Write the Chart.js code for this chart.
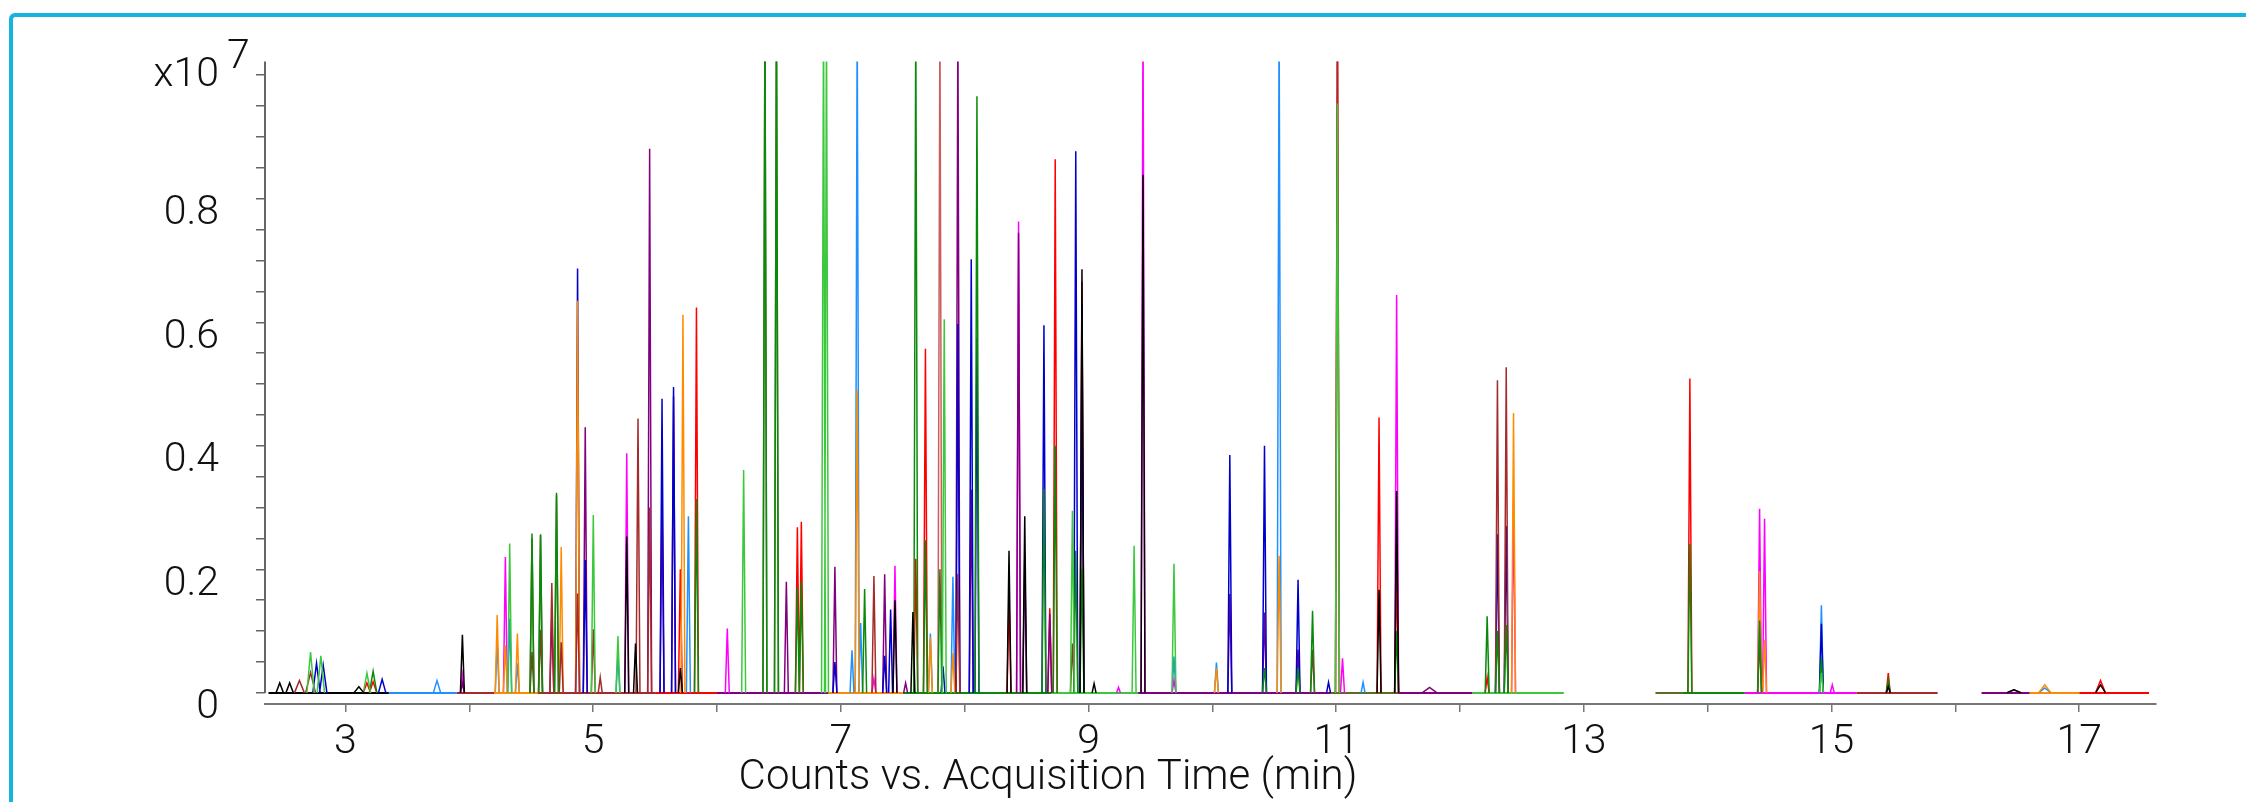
<!DOCTYPE html>
<html>
<head>
<meta charset="utf-8">
<title>Counts vs. Acquisition Time</title>
<script src="https://cdn.jsdelivr.net/npm/chart.js@4.4.1/dist/chart.umd.min.js"></script>
<style>
  html, body { margin: 0; padding: 0; background: #fff; }
  #wrap { position: relative; width: 2246px; height: 802px; overflow: hidden; }
  #frame { position: absolute; left: 9px; top: 13px; width: 2400px; height: 900px;
           border-top: 4px solid #14b3e0; border-left: 4px solid #14b3e0; border-top-left-radius: 6px; }
  #chart-box { position: absolute; left: 0; top: 0; width: 2246px; height: 802px; }
</style>
</head>
<body>
<div id="wrap">
  <div id="frame"></div>
  <div id="chart-box"><canvas id="tic"></canvas></div>
</div>
<script>
// Overlaid MRM chromatograms, counts in units of 1e7, time in minutes.
// Each trace is a list of [retention time, height(, half width)].

const axisTitle = 'Counts vs. Acquisition Time (min)';
const xTicks = [3, 4, 5, 6, 7, 8, 9, 10, 11, 12, 13, 14, 15, 16, 17];
const yTicks = [0, 0.05, 0.1, 0.15, 0.2, 0.25, 0.3, 0.35, 0.4, 0.45, 0.5,
                0.55, 0.6, 0.65, 0.7, 0.75, 0.8, 0.85, 0.9, 0.95, 1.0];
const yLabelled = [0, 0.2, 0.4, 0.6, 0.8];

const palette = {
  black: '#000000', red: '#ff0000', blue: '#0000cd', lime: '#3cc83c', green: '#0a8a0a',
  magenta: '#ff00ff', orange: '#ff8c00', sky: '#1e90ff', purple: '#800080', brown: '#a52a2a',
  olive: '#5b6b1f', rosered: '#cd5c5c',
};

// baseline stretches [from, to, colour] – the three acquisition windows, coloured by the trace on top
const baselinePieces = [
  [2.378, 3.35, 'black'], [3.35, 3.9, 'sky'], [3.9, 4.2, 'brown'], [4.2, 4.55, 'orange'],
  [4.55, 5.5, 'brown'], [5.5, 6.0, 'red'], [6.0, 6.9, 'purple'], [6.9, 7.5, 'orange'],
  [7.5, 8.7, 'green'], [8.7, 9.4, 'lime'], [9.4, 10.95, 'purple'], [10.95, 11.5, 'olive'],
  [11.5, 12.1, 'purple'], [12.1, 12.838, 'lime'],
  [13.578, 13.8, 'olive'], [13.8, 14.3, 'green'], [14.3, 15.2, 'magenta'], [15.2, 15.857, 'brown'],
  [16.211, 16.6, 'purple'], [16.6, 17.0, 'orange'], [17.0, 17.564, 'red'],
];

// 1.1 = peak runs off the top of the plot
const blackPeaks = [[2.469, 0.016, 0.03], [2.549, 0.016, 0.03], [3.108, 0.01, 0.04], [3.944, 0.094],
  [5.271, 0.253], [5.342, 0.08], [5.704, 0.04], [7.437, 0.15], [7.582, 0.131], [8.358, 0.23],
  [8.485, 0.286], [8.947, 0.686], [9.045, 0.015], [9.44, 0.839], [11.346, 0.167], [11.488, 0.327],
  [15.458, 0.01], [16.473, 0.005, 0.06], [17.172, 0.013, 0.04]];
const redPeaks = [[3.173, 0.016, 0.03], [3.223, 0.018, 0.03], [5.704, 0.2], [5.834, 0.624],
  [6.649, 0.268], [6.681, 0.277], [7.605, 0.217], [7.683, 0.557], [8.358, 0.157], [8.687, 0.137],
  [8.731, 0.864], [8.947, 0.666], [11.01, 1.1], [11.346, 0.446], [11.488, 0.2], [12.219, 0.025],
  [13.856, 0.509], [15.458, 0.032], [17.172, 0.02, 0.04]];
const bluePeaks = [[2.766, 0.048, 0.03], [2.82, 0.045, 0.03], [3.296, 0.022, 0.03], [4.874, 0.687],
  [4.936, 0.215], [5.556, 0.476], [5.649, 0.495], [6.952, 0.05], [7.354, 0.06], [7.402, 0.135],
  [7.825, 0.043], [7.945, 0.597], [8.053, 0.702], [8.099, 0.575], [8.64, 0.595], [8.897, 0.877],
  [8.947, 0.63], [10.141, 0.385], [10.421, 0.40], [10.692, 0.183], [10.938, 0.017], [12.302, 0.257],
  [12.373, 0.27], [14.918, 0.112]];
const limePeaks = [[2.718, 0.066, 0.03], [2.801, 0.06, 0.03], [3.173, 0.032, 0.03], [4.326, 0.242],
  [5.001, 0.288], [5.2, 0.092], [6.215, 0.361], [6.86, 1.1], [6.884, 1.1], [7.835, 0.605],
  [8.87, 0.295], [9.368, 0.238], [9.69, 0.209], [11.01, 0.954], [14.918, 0.032]];
const greenPeaks = [[3.223, 0.035, 0.03], [4.506, 0.258], [4.575, 0.257], [4.704, 0.324], [5.834, 0.314],
  [6.387, 1.1], [6.48, 1.1], [6.649, 0.17], [6.681, 0.18], [7.192, 0.168], [7.605, 1.1], [7.683, 0.247],
  [7.8, 0.2], [8.099, 0.966], [8.64, 0.33], [8.731, 0.4], [8.897, 0.23], [8.947, 0.2], [10.421, 0.04],
  [10.692, 0.04], [10.809, 0.133], [11.488, 0.1], [12.219, 0.124], [12.302, 0.1], [12.373, 0.11],
  [13.856, 0.241], [14.419, 0.117], [14.918, 0.056], [15.458, 0.021]];
const magentaPeaks = [[3.944, 0.029], [4.291, 0.22], [5.271, 0.388], [6.083, 0.104], [7.267, 0.023],
  [7.437, 0.206], [8.435, 0.763], [9.242, 0.009], [9.44, 1.1], [9.69, 0.02], [11.051, 0.056],
  [11.488, 0.644], [12.432, 0.31], [14.419, 0.298], [14.459, 0.282], [15.006, 0.013], [15.458, 0.015]];
const orangePeaks = [[4.225, 0.126], [4.291, 0.077], [4.388, 0.096], [4.742, 0.236], [4.874, 0.635],
  [5.725, 0.612], [7.132, 0.49], [7.723, 0.09], [7.905, 0.064], [10.033, 0.04], [10.539, 0.222],
  [12.432, 0.453], [14.419, 0.197], [14.459, 0.086], [16.722, 0.013, 0.05]];
const skyPeaks = [[3.739, 0.02, 0.03], [4.225, 0.083], [4.326, 0.12], [4.388, 0.048], [5.2, 0.059],
  [5.769, 0.286], [7.09, 0.069], [7.132, 1.1], [7.16, 0.113], [7.723, 0.096], [7.905, 0.188],
  [9.69, 0.059], [10.033, 0.049], [10.539, 1.1], [11.217, 0.017], [14.918, 0.142], [16.722, 0.008, 0.05]];
const purplePeaks = [[3.944, 0.015], [4.666, 0.126], [4.936, 0.43], [5.456, 0.881], [5.556, 0.31],
  [5.649, 0.48], [6.56, 0.18], [6.952, 0.204], [7.354, 0.192], [7.523, 0.016], [7.945, 1.1],
  [8.053, 0.329], [8.435, 0.745], [8.485, 0.22], [8.687, 0.128], [10.141, 0.16], [10.421, 0.13],
  [10.692, 0.07], [11.754, 0.009, 0.06], [16.473, 0.005, 0.06]];
const brownPeaks = [[2.628, 0.02, 0.04], [2.718, 0.033, 0.04], [4.506, 0.066], [4.575, 0.102],
  [4.666, 0.178], [4.742, 0.082], [4.874, 0.161], [5.001, 0.103], [5.057, 0.025], [5.362, 0.444],
  [5.456, 0.30], [7.267, 0.189], [7.945, 0.193], [8.87, 0.08], [10.809, 0.07], [11.01, 1.1],
  [12.302, 0.506], [12.373, 0.527], [14.419, 0.085]];
const olivePeaks = [[4.506, 0.25], [4.575, 0.255], [4.704, 0.32], [6.387, 1.1], [6.48, 1.1]];
const roseRedPeaks = [[7.8, 1.1]];

// first entry is drawn on top
const traces = [
  { name: 'black', peaks: blackPeaks },
  { name: 'lime', peaks: limePeaks },
  { name: 'green', peaks: greenPeaks },
  { name: 'brown', peaks: brownPeaks },
  { name: 'orange', peaks: orangePeaks },
  { name: 'blue', peaks: bluePeaks },
  { name: 'purple', peaks: purplePeaks },
  { name: 'red', peaks: redPeaks },
  { name: 'rosered', peaks: roseRedPeaks },
  { name: 'magenta', peaks: magentaPeaks },
  { name: 'sky', peaks: skyPeaks },
  { name: 'olive', peaks: olivePeaks },
];

const HALF_WIDTH = 0.016;

// one spike per peak, broken between peaks so the baseline colour comes from baselinePieces
function peakData(peaks) {
  const pts = [];
  peaks.slice().sort((a, b) => a[0] - b[0]).forEach(([rt, h, hw = HALF_WIDTH]) => {
    pts.push({ x: rt - hw, y: 0 }, { x: rt, y: h }, { x: rt + hw, y: 0 }, { x: rt + hw, y: null });
  });
  return pts;
}

const axisExtras = {
  id: 'axisExtras',
  afterDraw(chart) {
    const { ctx, chartArea, scales: { y } } = chart;
    ctx.save();
    // y axis line only runs down to the zero line, the x axis sits a bit lower
    ctx.strokeStyle = '#666';
    ctx.lineWidth = 2;
    ctx.beginPath();
    ctx.moveTo(chartArea.left, y.getPixelForValue(0));
    ctx.lineTo(chartArea.left, chartArea.top);
    ctx.stroke();

    ctx.fillStyle = '#111';
    ctx.font = '300 41px Roboto';
    ctx.textBaseline = 'alphabetic';
    ctx.textAlign = 'right';
    ctx.fillText('x10', chartArea.left - 46, 86);
    ctx.textAlign = 'left';
    ctx.fillText('7', chartArea.left - 38, 68);

    ctx.font = '300 42px Roboto';
    ctx.textAlign = 'center';
    ctx.fillText(axisTitle, 1048, 789);
    ctx.restore();
  }
};

Chart.defaults.font.family = 'Roboto';
Chart.defaults.font.weight = 300;

const baselineSets = baselinePieces.map(([a, b, c]) => ({
  label: 'baseline',
  data: [{ x: a, y: 0 }, { x: b, y: 0 }],
  borderColor: palette[c],
  borderWidth: 2,
  pointRadius: 0,
  order: 1,
}));
const peakSets = traces.map(t => ({
  label: t.name,
  data: peakData(t.peaks),
  borderColor: palette[t.name],
  borderWidth: 1.5,
  pointRadius: 0,
  tension: 0,
  spanGaps: false,
  order: 0,
}));

new Chart(document.getElementById('tic'), {
  type: 'line',
  data: { datasets: peakSets.concat(baselineSets) },
  options: {
    responsive: true,
    maintainAspectRatio: false,
    animation: false,
    events: [],
    layout: { padding: { left: 0, top: 59, right: 90, bottom: 0 } },
    plugins: { legend: { display: false }, tooltip: { enabled: false } },
    scales: {
      x: {
        type: 'linear', min: 2.35, max: 17.62,
        afterBuildTicks: s => { s.ticks = xTicks.map(v => ({ value: v })); },
        afterFit: s => { s.height = 98; },
        grid: { drawOnChartArea: false, tickLength: 8, color: '#777', lineWidth: 1.5 },
        border: { display: true, color: '#777', width: 2 },
        ticks: {
          autoSkip: false, maxRotation: 0, padding: 6, color: '#111',
          font: { size: 41 },
          callback: v => (v % 2 ? String(v) : ''),
        },
      },
      y: {
        min: -0.018, max: 1.022,
        afterBuildTicks: s => { s.ticks = yTicks.map(v => ({ value: v })); },
        afterFit: s => { s.width = 265; },
        grid: { drawOnChartArea: false, tickLength: 9, color: '#666', lineWidth: 1.5 },
        border: { display: false },
        ticks: {
          autoSkip: false, padding: 37, labelOffset: 15, color: '#111',
          font: { size: 41 },
          callback: v => (yLabelled.some(l => Math.abs(l - v) < 1e-9) ? (v === 0 ? '0' : v.toFixed(1)) : ''),
        },
      },
    },
  },
  plugins: [axisExtras],
});
</script>
</body>
</html>
